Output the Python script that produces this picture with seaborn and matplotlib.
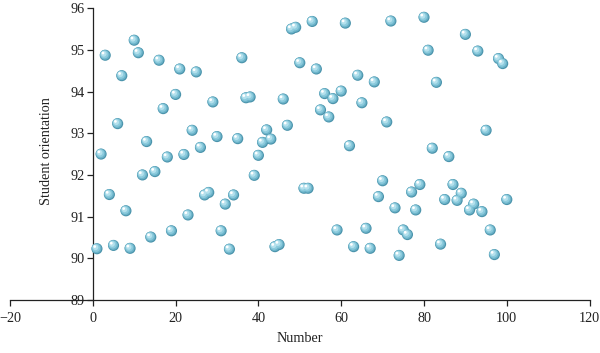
import numpy as np
import pandas as pd
import matplotlib
matplotlib.use("Agg")
import matplotlib.pyplot as plt
import matplotlib.transforms as mtransforms
import seaborn as sns

number = list(range(1, 101))
orientation = [
    90.23, 92.50, 94.87, 91.53, 90.31, 93.23, 94.38, 91.14, 90.24, 95.23,
    94.93, 92.00, 92.80, 90.51, 92.08, 94.75, 93.59, 92.43, 90.66, 93.93,
    94.54, 92.49, 91.04, 93.07, 94.47, 92.66, 91.52, 91.58, 93.75, 92.92,
    90.66, 91.30, 90.22, 91.52, 92.87, 94.81, 93.85, 93.87, 91.99, 92.47,
    92.78, 93.08, 92.86, 90.28, 90.33, 93.82, 93.19, 95.50, 95.54, 94.69,
    91.68, 91.68, 95.68, 94.54, 93.56, 93.95, 93.39, 93.83, 90.68, 94.01,
    95.64, 92.70, 90.28, 94.39, 93.73, 90.72, 90.24, 94.23, 91.48, 91.86,
    93.27, 95.69, 91.21, 90.07, 90.68, 90.57, 91.59, 91.16, 91.77, 95.78,
    94.99, 92.64, 94.22, 90.34, 91.41, 92.44, 91.77, 91.39, 91.56, 95.37,
    91.16, 91.30, 94.97, 91.12, 93.07, 90.68, 90.09, 94.79, 94.67, 91.41,
]
x_ticks = [-20, 0, 20, 40, 60, 80, 100, 120]
y_ticks = [89, 90, 91, 92, 93, 94, 95, 96]

df = pd.DataFrame({"Number": number, "Student orientation": orientation})

sns.set_style("ticks")
plt.rcParams["font.family"] = ["Liberation Serif", "DejaVu Serif"]
plt.rcParams["font.size"] = 10.2

fig = plt.figure(figsize=(6.0, 3.53), dpi=100)
ax = fig.add_axes([0.0167, 0.150, 0.966, 0.827])

# sphere-like markers: several layers shifted toward the upper-left
layers = [
    (64, "#4a93ab", 0.0, 0.0),
    (50, "#6cb3c9", -0.3, 0.3),
    (33, "#8ccbdd", -0.6, 0.6),
    (16, "#b5e1ed", -1.0, 1.0),
    (4, "#ffffff", -1.6, 1.6),
]
for s, c, dx, dy in layers:
    off = mtransforms.ScaledTranslation(dx / 72, dy / 72, fig.dpi_scale_trans)
    sns.scatterplot(data=df, x="Number", y="Student orientation", ax=ax,
                    s=s, color=c, edgecolor="none", linewidth=0,
                    transform=ax.transData + off, zorder=3, legend=False)

ax.set_xlim(-20, 120)
ax.set_ylim(89, 96)
ax.set_xticks(x_ticks)
ax.set_yticks(y_ticks)
ax.set_xticklabels(["\u221220" if t < 0 else str(t) for t in x_ticks])

ax.spines["left"].set_position(("data", 0))
ax.spines["bottom"].set_position(("data", 89))
ax.spines["right"].set_visible(False)
ax.spines["top"].set_visible(False)
for sp in ("left", "bottom"):
    ax.spines[sp].set_color("#222222")
    ax.spines[sp].set_linewidth(0.9)
ax.tick_params(axis="both", direction="out", length=4.5, width=0.9,
               color="#222222", labelsize=10.2, labelcolor="#222222")
ax.tick_params(axis="x", pad=4)
ax.tick_params(axis="y", pad=1.5)

ax.set_xlabel("Number", fontsize=10.2, color="#222222", labelpad=5)
ax.set_ylabel("Student orientation", fontsize=10.2, color="#222222")
ax.yaxis.set_label_coords(0.089, 0.572, transform=fig.transFigure)

fig.savefig("out.png", dpi=100)
